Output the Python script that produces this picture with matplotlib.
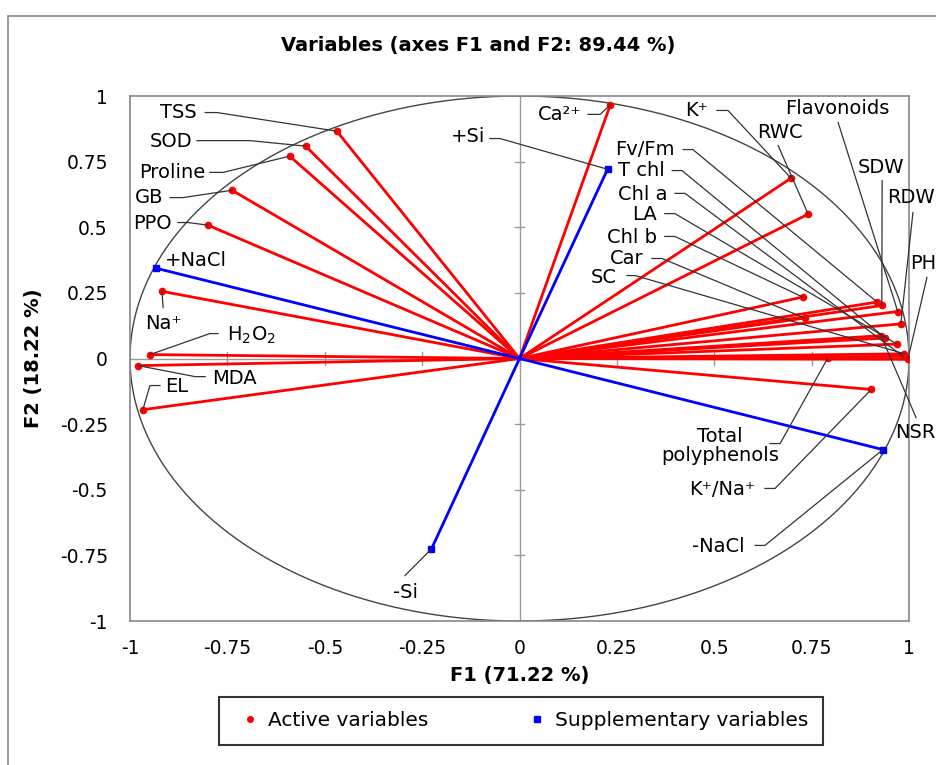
import matplotlib
matplotlib.use("Agg")
import matplotlib.pyplot as plt
import numpy as np
from matplotlib.patches import Rectangle
from matplotlib.lines import Line2D

plt.rcParams['font.family'] = ['DejaVu Sans']
plt.rcParams['mathtext.fontset'] = 'dejavusans'

# active variables (F1, F2 loadings)
active_names = ["TSS", "SOD", "Proline", "GB", "PPO", "Na⁺", "H$_2$O$_2$", "MDA", "EL",
                "Ca²⁺", "K⁺", "RWC", "Fv/Fm", "T chl", "Chl a", "LA", "Chl b", "Car",
                "SC", "Flavonoids", "SDW", "RDW", "PH", "NSR", "Total\npolyphenols",
                "K⁺/Na⁺"]
active_f1 = [-0.469, -0.549, -0.590, -0.738, -0.800, -0.918, -0.949, -0.979, -0.967,
             0.233, 0.697, 0.741, 0.918, 0.939, 0.985, 0.969, 0.727, 0.732,
             0.988, 0.971, 0.930, 0.979, 0.997, 0.928, 0.791, 0.903]
active_f2 = [0.866, 0.809, 0.771, 0.641, 0.508, 0.256, 0.015, -0.027, -0.195,
             0.966, 0.687, 0.550, 0.215, 0.078, 0.008, 0.055, 0.234, 0.154,
             0.018, 0.179, 0.202, 0.132, -0.003, 0.087, 0.001, -0.118]

# supplementary variables
supp_names = ["+Si", "-Si", "+NaCl", "-NaCl"]
supp_f1 = [0.226, -0.226, -0.933, 0.933]
supp_f2 = [0.721, -0.725, 0.344, -0.347]

ticks = [-1, -0.75, -0.5, -0.25, 0, 0.25, 0.5, 0.75, 1]
tick_labels = ["-1", "-0.75", "-0.5", "-0.25", "0", "0.25", "0.5", "0.75", "1"]

# label placement: text x, text y, ha, leader start (x, y), kink offset
act_lab = [
    (-0.828, 0.937, 'right', (-0.807, 0.937), 0.03),
    (-0.841, 0.827, 'right', (-0.828, 0.830), 0.136),
    (-0.807, 0.709, 'right', (-0.795, 0.709), 0.034),
    (-0.915, 0.613, 'right', (-0.897, 0.613), 0.033),
    (-0.892, 0.514, 'right', (-0.877, 0.518), 0.026),
    (-0.913, 0.133, 'center', (-0.915, 0.194), 0),
    (-0.751, 0.088, 'left', (-0.774, 0.095), -0.021),
    (-0.789, -0.076, 'left', (-0.807, -0.069), -0.026),
    (-0.910, -0.107, 'left', (-0.923, -0.103), -0.026),
    (0.160, 0.930, 'right', (0.176, 0.930), 0.031),
    (0.484, 0.945, 'right', (0.507, 0.945), 0.028),
    (0.669, 0.861, 'center', (0.664, 0.811), 0),
    (0.399, 0.796, 'right', (0.420, 0.796), 0.025),
    (0.373, 0.716, 'right', (0.392, 0.716), 0.025),
    (0.381, 0.625, 'right', (0.399, 0.629), 0.026),
    (0.353, 0.549, 'right', (0.373, 0.552), 0.026),
    (0.353, 0.461, 'right', (0.373, 0.465), 0.026),
    (0.317, 0.381, 'right', (0.340, 0.381), 0.026),
    (0.250, 0.309, 'right', (0.276, 0.316), 0.021),
    (0.815, 0.952, 'center', (0.818, 0.899), 0),
    (0.928, 0.728, 'center', (0.931, 0.678), 0),
    (0.943, 0.613, 'left', (1.010, 0.556), 0),
    (1.002, 0.362, 'left', (1.046, 0.309), 0),
    (0.964, -0.282, 'left', (1.018, -0.225), 0),
    (0.515, -0.335, 'center', (0.643, -0.324), 0.026),
    (0.605, -0.499, 'right', (0.630, -0.495), 0.026),
]
supp_lab = [
    (-0.087, 0.846, 'right', (-0.076, 0.838), 0.026),
    (-0.294, -0.891, 'center', (-0.294, -0.827), 0),
    (-0.910, 0.373, 'left', None, 0),
    (0.579, -0.716, 'right', (0.605, -0.712), 0.025),
]

fig = plt.figure(figsize=(9.36, 7.65), dpi=100)
ax = fig.add_axes([0.1389, 0.1882, 0.8323, 0.6863])
ax.set_xlim(-1, 1)
ax.set_ylim(-1, 1)

# outer chart frame
fig.patches.append(Rectangle((0.0085, -0.05), 1.2, 1.029,
                             transform=fig.transFigure, fill=False,
                             edgecolor='#888888', lw=1.2))

for s in ax.spines.values():
    s.set_color('#888888')
    s.set_linewidth(1.2)

ax.set_xticks(ticks)
ax.set_xticklabels(tick_labels)
ax.set_yticks(ticks)
ax.set_yticklabels(tick_labels)
ax.tick_params(length=0, labelsize=13.5, colors='black')
ax.tick_params(axis='x', pad=13)
ax.tick_params(axis='y', pad=16)

# zero axes with small ticks
ax.axhline(0, color='#999999', lw=1, zorder=1)
ax.axvline(0, color='#999999', lw=1, zorder=1)
for t in ticks[1:-1]:
    ax.plot([t, t], [-0.025, 0.025], color='#999999', lw=1, zorder=1)
    ax.plot([-0.012, 0.012], [t, t], color='#999999', lw=1, zorder=1)

# correlation circle
th = np.linspace(0, 2 * np.pi, 400)
ax.plot(np.cos(th), np.sin(th), color='#444444', lw=1, zorder=2)


def draw_label(name, px, py, lab):
    tx, ty, ha, start, kink = lab
    ax.text(tx, ty, name, ha=ha, va='center', fontsize=14, zorder=6,
            linespacing=1.0, clip_on=False)
    if start is None:
        return
    sx, sy = start
    if kink:
        xs = [sx, sx + kink, px]
        ys = [sy, sy, py]
    else:
        xs = [sx, px]
        ys = [sy, py]
    ax.plot(xs, ys, color='#333333', lw=0.9, zorder=5, clip_on=False)


for name, x, y, lab in zip(active_names, active_f1, active_f2, act_lab):
    ax.plot([0, x], [0, y], color='red', lw=2, zorder=3)
    ax.plot(x, y, 'o', color='red', ms=4.5, zorder=4)
    draw_label(name, x, y, lab)

for name, x, y, lab in zip(supp_names, supp_f1, supp_f2, supp_lab):
    ax.plot([0, x], [0, y], color='blue', lw=2, zorder=3)
    ax.plot(x, y, 's', color='blue', ms=5, zorder=4)
    draw_label(name, x, y, lab)

fig.text(478 / 936, 1 - 46 / 765, "Variables (axes F1 and F2: 89.44 %)",
         ha='center', va='center', fontsize=14, fontweight='bold')
ax.set_xlabel("F1 (71.22 %)", fontsize=14, fontweight='bold', labelpad=6)
ax.set_ylabel("F2 (18.22 %)", fontsize=14, fontweight='bold', labelpad=12)

handles = [Line2D([], [], marker='o', color='red', ls='none', ms=4),
           Line2D([], [], marker='s', color='blue', ls='none', ms=4)]
leg = fig.legend(handles, ["Active variables", "Supplementary variables"],
                 loc='center', bbox_to_anchor=(521 / 936, 1 - 721 / 765),
                 ncol=2, fontsize=14.5, frameon=True, fancybox=False,
                 handletextpad=0.1, columnspacing=4.6, borderpad=0.7,
                 handlelength=1.6, borderaxespad=0, handleheight=0.7)
leg.get_frame().set_edgecolor('black')
leg.get_frame().set_linewidth(1.5)

fig.savefig("out.png", dpi=100)
